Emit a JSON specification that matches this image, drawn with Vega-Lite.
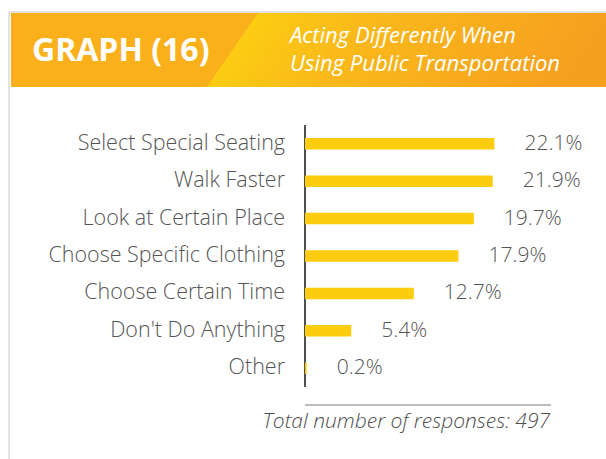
{
  "$schema": "https://vega.github.io/schema/vega-lite/v6.json",
  "width": 606,
  "height": 459,
  "autosize": "none",
  "padding": 0,
  "background": "white",
  "config": {"view": {"stroke": null}},
  "datasets": {
    "responses": [
      {"label": "Select Special Seating", "value": 22.1, "text": "22.1%"},
      {"label": "Walk Faster", "value": 21.9, "text": "21.9%"},
      {"label": "Look at Certain Place", "value": 19.7, "text": "19.7%"},
      {"label": "Choose Specific Clothing", "value": 17.9, "text": "17.9%"},
      {"label": "Choose Certain Time", "value": 12.7, "text": "12.7%"},
      {"label": "Don't Do Anything", "value": 5.4, "text": "5.4%"},
      {"label": "Other", "value": 0.2, "text": "0.2%"}
    ]
  },
  "resolve": {"scale": {"y": "independent"}},
  "layer": [
    {
      "data": {"values": [{}]},
      "layer": [
        {
          "mark": {"type": "rule", "color": "#d9d9d9", "strokeWidth": 1.5},
          "encoding": {
            "x": {"datum": -34.54, "type": "quantitative"},
            "x2": {"datum": 35.12},
            "y": {"datum": 12, "type": "quantitative", "scale": {"domain": [0, 459], "reverse": true, "nice": false, "zero": false}, "axis": null}
          }
        },
        {
          "mark": {"type": "rule", "color": "#d9d9d9", "strokeWidth": 1.5},
          "encoding": {
            "x": {"datum": -34.54, "type": "quantitative"},
            "y": {"datum": 12, "type": "quantitative", "scale": {"domain": [0, 459], "reverse": true, "nice": false, "zero": false}, "axis": null},
            "y2": {"datum": 459}
          }
        },
        {
          "mark": {
            "type": "rect",
            "fill": {
              "gradient": "linear",
              "x1": 0, "y1": 0, "x2": 1, "y2": 0.0857,
              "stops": [
                {"offset": 0, "color": "#FAB01B"},
                {"offset": 0.412, "color": "#FAB01B"},
                {"offset": 0.4121, "color": "#FCCC13"},
                {"offset": 0.6, "color": "#FAB91A"},
                {"offset": 1, "color": "#F6A01F"}
              ]
            }
          },
          "encoding": {
            "x": {"datum": -34.31, "type": "quantitative"},
            "x2": {"datum": 35.12},
            "y": {"datum": 13, "type": "quantitative", "scale": {"domain": [0, 459], "reverse": true, "nice": false, "zero": false}, "axis": null},
            "y2": {"datum": 87}
          }
        },
        {
          "mark": {"type": "text", "text": "GRAPH (16)", "font": "Open Sans", "fontWeight": "bold", "fontSize": 32, "color": "white", "align": "left", "baseline": "middle"},
          "encoding": {
            "x": {"datum": -31.86, "type": "quantitative"},
            "y": {"datum": 51, "type": "quantitative", "scale": {"domain": [0, 459], "reverse": true, "nice": false, "zero": false}, "axis": null}
          }
        },
        {
          "mark": {"type": "text", "text": "Acting Differently When", "font": "Open Sans", "fontStyle": "italic", "fontSize": 22, "color": "white", "align": "left", "baseline": "middle"},
          "encoding": {
            "x": {"datum": -1.75, "type": "quantitative"},
            "y": {"datum": 36, "type": "quantitative", "scale": {"domain": [0, 459], "reverse": true, "nice": false, "zero": false}, "axis": null}
          }
        },
        {
          "mark": {"type": "text", "text": "Using Public Transportation", "font": "Open Sans", "fontStyle": "italic", "fontSize": 22, "color": "white", "align": "left", "baseline": "middle"},
          "encoding": {
            "x": {"datum": -1.75, "type": "quantitative"},
            "y": {"datum": 63.5, "type": "quantitative", "scale": {"domain": [0, 459], "reverse": true, "nice": false, "zero": false}, "axis": null}
          }
        },
        {
          "mark": {"type": "rule", "color": "#4d4d4d", "strokeWidth": 2},
          "encoding": {
            "x": {"datum": 0, "type": "quantitative"},
            "y": {"datum": 125, "type": "quantitative", "scale": {"domain": [0, 459], "reverse": true, "nice": false, "zero": false}, "axis": null},
            "y2": {"datum": 387}
          }
        },
        {
          "mark": {"type": "rule", "color": "#a6a6a6", "strokeWidth": 1.5},
          "encoding": {
            "x": {"datum": 0, "type": "quantitative"},
            "x2": {"datum": 28.7},
            "y": {"datum": 405, "type": "quantitative", "scale": {"domain": [0, 459], "reverse": true, "nice": false, "zero": false}, "axis": null}
          }
        },
        {
          "mark": {"type": "text", "text": "Total number of responses: 497", "font": "Open Sans", "fontStyle": "italic", "fontWeight": 300, "fontSize": 21, "color": "#4d4d4d", "align": "right", "baseline": "middle"},
          "encoding": {
            "x": {"datum": 28.59, "type": "quantitative"},
            "y": {"datum": 422, "type": "quantitative", "scale": {"domain": [0, 459], "reverse": true, "nice": false, "zero": false}, "axis": null}
          }
        }
      ]
    },
    {
      "data": {"name": "responses"},
      "encoding": {
        "y": {
          "field": "label",
          "type": "nominal",
          "sort": null,
          "axis": null,
          "scale": {"range": [125, 387], "paddingInner": 0.693, "paddingOuter": 0.3465}
        }
      },
      "layer": [
        {
          "mark": {"type": "bar", "color": "#FCCC0E"},
          "encoding": {
            "x": {"field": "value", "type": "quantitative", "scale": {"domain": [-35.59, 35.12], "nice": false, "zero": false}, "axis": null}
          }
        },
        {
          "mark": {"type": "text", "font": "Open Sans", "fontWeight": 300, "fontSize": 21, "color": "#555555", "align": "left", "baseline": "middle", "dx": 30},
          "encoding": {
            "x": {"field": "value", "type": "quantitative"},
            "text": {"field": "text", "type": "nominal"}
          }
        },
        {
          "mark": {"type": "text", "font": "Open Sans", "fontWeight": 300, "fontSize": 21.5, "color": "#555555", "align": "right", "baseline": "middle", "dx": -20},
          "encoding": {
            "x": {"datum": 0, "type": "quantitative"},
            "text": {"field": "label", "type": "nominal"}
          }
        }
      ]
    }
  ]
}
